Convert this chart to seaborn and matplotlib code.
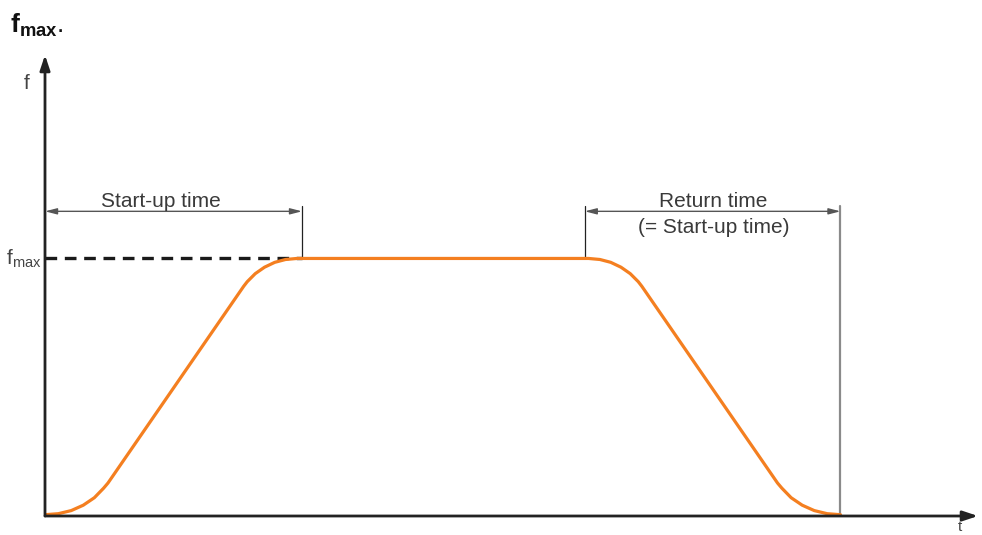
import matplotlib
matplotlib.use("Agg")
import matplotlib.pyplot as plt
import seaborn as sns
import pandas as pd

# speed curve (t in start-up-time units, f relative to f_max)
t_up = [0.0, 0.052, 0.102, 0.149, 0.192, 0.228, 0.245,
        0.773, 0.787, 0.818, 0.854, 0.894, 0.936, 0.98]
f_up = [0.005, 0.009, 0.021, 0.042, 0.071, 0.108, 0.128,
        0.892, 0.910, 0.941, 0.966, 0.985, 0.996, 1.0]
t_down = [2.115, 2.159, 2.201, 2.241, 2.277, 2.308, 2.322,
          2.85, 2.867, 2.903, 2.946, 2.993, 3.043, 3.095]
f_down = [1.0, 0.996, 0.985, 0.966, 0.941, 0.910, 0.892,
          0.128, 0.108, 0.071, 0.042, 0.021, 0.009, 0.005]

startup_end = 1.0
return_start = 2.1
return_end = 3.095
f_max = 1.0
x_max = 3.63
y_max = 1.79

title_txt = r"$\mathbf{f}_{\mathbf{max}}$."
startup_label = "Start-up time"
return_label = "Return time"
return_note = "(= Start-up time)"

curve = pd.DataFrame({"t": t_up + t_down, "f": f_up + f_down})

sns.set_style("white")
plt.rcParams["font.family"] = ["Liberation Sans", "DejaVu Sans"]
plt.rcParams["mathtext.fontset"] = "custom"
plt.rcParams["mathtext.rm"] = "Liberation Sans"
plt.rcParams["mathtext.bf"] = "Liberation Sans:bold"

fig = plt.figure(figsize=(9.82, 5.35), dpi=100)
ax = fig.add_axes([45 / 982, 19 / 535, 933 / 982, 461 / 535])
ax.set_xlim(0, x_max)
ax.set_ylim(0, y_max)
for s in ax.spines.values():
    s.set_visible(False)
ax.set_xticks([])
ax.set_yticks([])

orange = "#f47f20"
sns.lineplot(data=curve, x="t", y="f", sort=False, estimator=None, color=orange,
             linewidth=2.3, ax=ax, solid_joinstyle="round", solid_capstyle="round", zorder=3)
ax.set_xlabel("")
ax.set_ylabel("")

# axes with arrow heads
axis_col = "#222222"
ax.annotate("", xy=(x_max, 0), xytext=(0, 0), annotation_clip=False,
            arrowprops=dict(arrowstyle="-|>,head_length=0.9,head_width=0.3", color=axis_col, lw=2.0,
                            shrinkA=0, shrinkB=0))
ax.annotate("", xy=(0, y_max), xytext=(0, 0), annotation_clip=False,
            arrowprops=dict(arrowstyle="-|>,head_length=0.9,head_width=0.3", color=axis_col, lw=2.0,
                            shrinkA=0, shrinkB=0))

# f_max dashed level
ax.plot([0, startup_end], [f_max, f_max], color="#1a1a1a", lw=2.4, dashes=(3.5, 2.3), zorder=2)

# dimension lines
dim_y = 1.183
tick_top = 1.205
ax.plot([startup_end, startup_end], [f_max, tick_top], color="#222222", lw=0.9)
ax.plot([return_start, return_start], [f_max, tick_top], color="#222222", lw=0.9)
ax.plot([return_end, return_end], [0, tick_top], color="#8a8a8a", lw=1.6, zorder=1)
dim_arrow = dict(arrowstyle="<|-|>,head_length=0.7,head_width=0.18", color="#555555", lw=1.0,
                 shrinkA=0, shrinkB=0)
ax.annotate("", xy=(startup_end, dim_y), xytext=(0, dim_y), arrowprops=dim_arrow)
ax.annotate("", xy=(return_end, dim_y), xytext=(return_start, dim_y), arrowprops=dim_arrow)

txt_col = "#3a3a3a"
ax.text(0.45, 1.222, startup_label, ha="center", va="center", fontsize=15, color=txt_col)
ax.text(2.6, 1.222, return_label, ha="center", va="center", fontsize=15, color=txt_col)
ax.text(2.6, 1.122, return_note, ha="center", va="center", fontsize=15, color=txt_col)

# axis labels
ax.text(-0.07, 1.68, "f", ha="center", va="center", fontsize=15, color="#444444", clip_on=False)
ax.text(-0.015, f_max, r"$\mathrm{f}_{\mathrm{max}}$", ha="right", va="center", fontsize=15,
        color="#444444", clip_on=False)
ax.text(3.56, -0.015, "t", ha="center", va="top", fontsize=11, color="#444444", clip_on=False)

fig.text(10 / 982, 1 - 25 / 535, title_txt, ha="left", va="center", fontsize=19, color="#111111")

fig.savefig("out.png", dpi=100)
